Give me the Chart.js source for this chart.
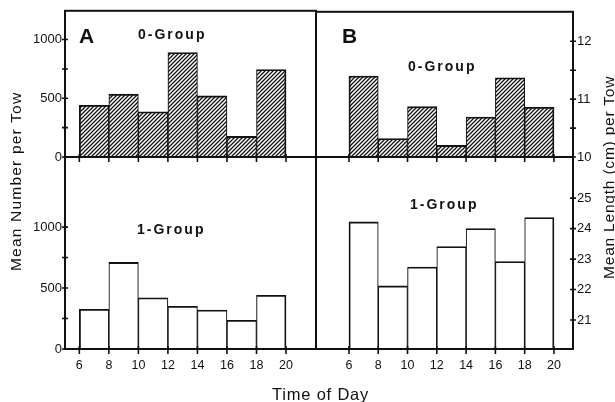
<!DOCTYPE html>
<html>
<head>
<meta charset="utf-8">
<script src="https://cdn.jsdelivr.net/npm/chart.js@4.4.1/dist/chart.umd.min.js"></script>
<style>
html,body{margin:0;padding:0;background:#fff;}
#wrap{position:relative;width:615px;height:402px;overflow:hidden;font-family:'Liberation Sans',Arial,sans-serif;color:#111;}
canvas{position:absolute;left:0;top:0;}
.t{position:absolute;white-space:nowrap;line-height:1;}
.b{font-weight:bold;}
.vt{position:absolute;writing-mode:vertical-rl;transform:rotate(180deg);text-align:center;white-space:nowrap;width:18px;line-height:18px;font-size:15.5px;}
.ctr{transform:translate(-50%,-50%);}
</style>
</head>
<body>
<div id="wrap">
  <canvas id="cA0" width="615" height="402"></canvas>
  <canvas id="cA1" width="615" height="402"></canvas>
  <canvas id="cB0" width="615" height="402"></canvas>
  <canvas id="cB1" width="615" height="402"></canvas>
  <div class="t b" style="left:79px;top:25px;font-size:21px;">A</div>
  <div class="t b" style="left:342px;top:25px;font-size:21px;">B</div>
  <div class="t b" style="left:138px;top:27px;font-size:14px;letter-spacing:2px;">0-Group</div>
  <div class="t b" style="left:408px;top:59px;font-size:14px;letter-spacing:2px;">0-Group</div>
  <div class="t b" style="left:137px;top:222px;font-size:14px;letter-spacing:2px;">1-Group</div>
  <div class="t b" style="left:410px;top:197px;font-size:14px;letter-spacing:2px;">1-Group</div>
  <div class="vt" style="left:7px;top:8px;height:346px;letter-spacing:1.2px;">Mean Number per Tow</div>
  <div class="vt" style="left:600px;top:8px;height:338px;letter-spacing:0.8px;">Mean Length (cm) per Tow</div>
  <div class="t" style="left:272px;top:386px;font-size:16.5px;letter-spacing:0.8px;">Time of Day</div>
</div>
<script>
// ---- data ----
const timeTicks = [6, 8, 10, 12, 14, 16, 18, 20];          // bin edges (hour of day)
const timeLabels = ['6', '8', '10', '12', '14', '16', '18', '20'];
const numberA0 = [440, 535, 385, 890, 520, 175, 745];      // A, 0-Group mean number per tow
const numberA1 = [325, 710, 420, 350, 320, 235, 440];      // A, 1-Group mean number per tow
const lengthB0 = [11.40, 10.32, 10.87, 10.20, 10.69, 11.37, 10.86]; // B, 0-Group mean length (cm)
const lengthB1 = [24.22, 22.12, 22.74, 23.41, 24.00, 22.92, 24.36]; // B, 1-Group mean length (cm)
const numberTicks = [0, 250, 500, 750, 1000];
const numberTickLabels = ['0', '', '500', '', '1000'];
const length0Ticks = [10, 10.5, 11, 11.5, 12];
const length0TickLabels = ['10', '', '11', '', '12'];
const length1Ticks = [21, 22, 23, 24, 25];
const length1TickLabels = ['21', '22', '23', '24', '25'];

const ink = '#111';
Chart.defaults.font.family = "'Liberation Sans', Arial, sans-serif";
Chart.defaults.color = ink;

function hatchPattern() {
  const c = document.createElement('canvas');
  c.width = 4; c.height = 4;
  const g = c.getContext('2d');
  g.fillStyle = '#fff'; g.fillRect(0, 0, 4, 4);
  g.strokeStyle = ink; g.lineWidth = 1.25;
  g.beginPath();
  g.moveTo(-1, 5); g.lineTo(5, -1);
  g.moveTo(-1, 1); g.lineTo(1, -1);
  g.moveTo(3, 5); g.lineTo(5, 3);
  g.stroke();
  return g.createPattern(c, 'repeat');
}

const framePlugin = {
  id: 'frame',
  afterDraw(chart, args, opts) {
    const { ctx, chartArea: a } = chart;
    ctx.save();
    ctx.strokeStyle = ink;
    ctx.lineWidth = 2;
    ctx.strokeRect(a.left, a.top, a.right - a.left, a.bottom - a.top);
    ctx.lineWidth = 1.6;
    for (const sc of Object.values(chart.scales)) {
      const t = opts.ticks && opts.ticks[sc.id];
      if (!t) continue;
      ctx.beginPath();
      for (const tk of sc.ticks) {
        const p = sc.getPixelForValue(tk.value);
        if (sc.isHorizontal()) {
          const y = a.bottom;
          ctx.moveTo(p, y - t.inside); ctx.lineTo(p, y + t.outside);
        } else if (sc.position === 'left') {
          ctx.moveTo(a.left - t.outside, p); ctx.lineTo(a.left + t.inside, p);
        } else {
          ctx.moveTo(a.right - t.inside, p); ctx.lineTo(a.right + t.outside, p);
        }
      }
      ctx.stroke();
    }
    ctx.restore();
  }
};

// fixed axis box sizes; layout padding = panel edge minus axis box
const Y_BOX = 36, X_BOX = 26;

function makePanel(id, values, o) {
  const last = values.length - 1;
  const p = o.edges; // panel edges in canvas px
  const pad = {
    left: o.ySide === 'left' ? p.left - Y_BOX : p.left,
    right: o.ySide === 'right' ? 615 - p.right - Y_BOX : 615 - p.right,
    top: p.top,
    bottom: o.showX ? 402 - p.bottom - X_BOX : 402 - p.bottom
  };
  return new Chart(document.getElementById(id), {
    type: 'bar',
    data: {
      datasets: [{
        data: values.map((v, i) => ({ x: (timeTicks[i] + timeTicks[i + 1]) / 2, y: v })),
        backgroundColor: o.fill,
        borderColor: ink,
        borderWidth: (c) => ({ top: 1.8, left: c.dataIndex === 0 ? 1.8 : 1.1, right: c.dataIndex === last ? 1.8 : 1.1, bottom: 0 }),
        borderSkipped: 'start',
        barPercentage: 1,
        categoryPercentage: 1
      }]
    },
    options: {
      responsive: false,
      animation: false,
      devicePixelRatio: 1,
      events: [],
      layout: { autoPadding: false, padding: pad },
      plugins: {
        legend: { display: false },
        tooltip: { enabled: false },
        frame: { ticks: { x: { inside: 3, outside: 5 }, y: { inside: 3, outside: 3 } } }
      },
      scales: {
        x: {
          type: 'linear', position: 'bottom', min: o.xMin, max: o.xMax,
          bounds: 'data', offset: false,
          afterBuildTicks: (s) => { s.ticks = timeTicks.map(v => ({ value: v })); },
          afterFit: (s) => { s.height = o.showX ? X_BOX : 0; },
          grid: { display: false, drawTicks: false, offset: false },
          border: { display: false },
          ticks: {
            display: o.showX, padding: 9, autoSkip: false, maxRotation: 0, minRotation: 0,
            font: { size: 12.5 }, color: ink,
            callback: (v, i) => timeLabels[i]
          }
        },
        y: {
          type: 'linear', position: o.ySide, min: o.yMin, max: o.yMax, bounds: 'data',
          afterBuildTicks: (s) => { s.ticks = o.yTicks.map(v => ({ value: v })); },
          afterFit: (s) => { s.width = Y_BOX; },
          grid: { display: false, drawTicks: false },
          border: { display: false },
          ticks: {
            padding: o.ySide === 'left' ? 3 : 4, autoSkip: false,
            font: { size: 13 }, color: ink,
            callback: (v, i) => o.yLabels[i]
          }
        }
      }
    },
    plugins: [framePlugin]
  });
}

const hatch = hatchPattern();
// panel grid lines at x 65 / 316 / 573 and y 8 / 157 / 349
makePanel('cA0', numberA0, {
  fill: hatch, edges: { left: 65, right: 316, top: 8, bottom: 157 },
  xMin: 5.03, xMax: 22.03, showX: false,
  ySide: 'left', yMin: 0, yMax: 1245, yTicks: numberTicks, yLabels: numberTickLabels
});
makePanel('cA1', numberA1, {
  fill: '#fff', edges: { left: 65, right: 316, top: 157, bottom: 349 },
  xMin: 5.03, xMax: 22.03, showX: true,
  ySide: 'left', yMin: 0, yMax: 1575, yTicks: numberTicks, yLabels: numberTickLabels
});
makePanel('cB0', lengthB0, {
  fill: hatch, edges: { left: 316, right: 573, top: 8, bottom: 157 },
  xMin: 3.75, xMax: 21.3, showX: false,
  ySide: 'right', yMin: 10, yMax: 12.51, yTicks: length0Ticks, yLabels: length0TickLabels
});
makePanel('cB1', lengthB1, {
  fill: '#fff', edges: { left: 316, right: 573, top: 157, bottom: 349 },
  xMin: 3.75, xMax: 21.3, showX: true,
  ySide: 'right', yMin: 20.05, yMax: 26.35, yTicks: length1Ticks, yLabels: length1TickLabels
});
</script>
</body>
</html>
